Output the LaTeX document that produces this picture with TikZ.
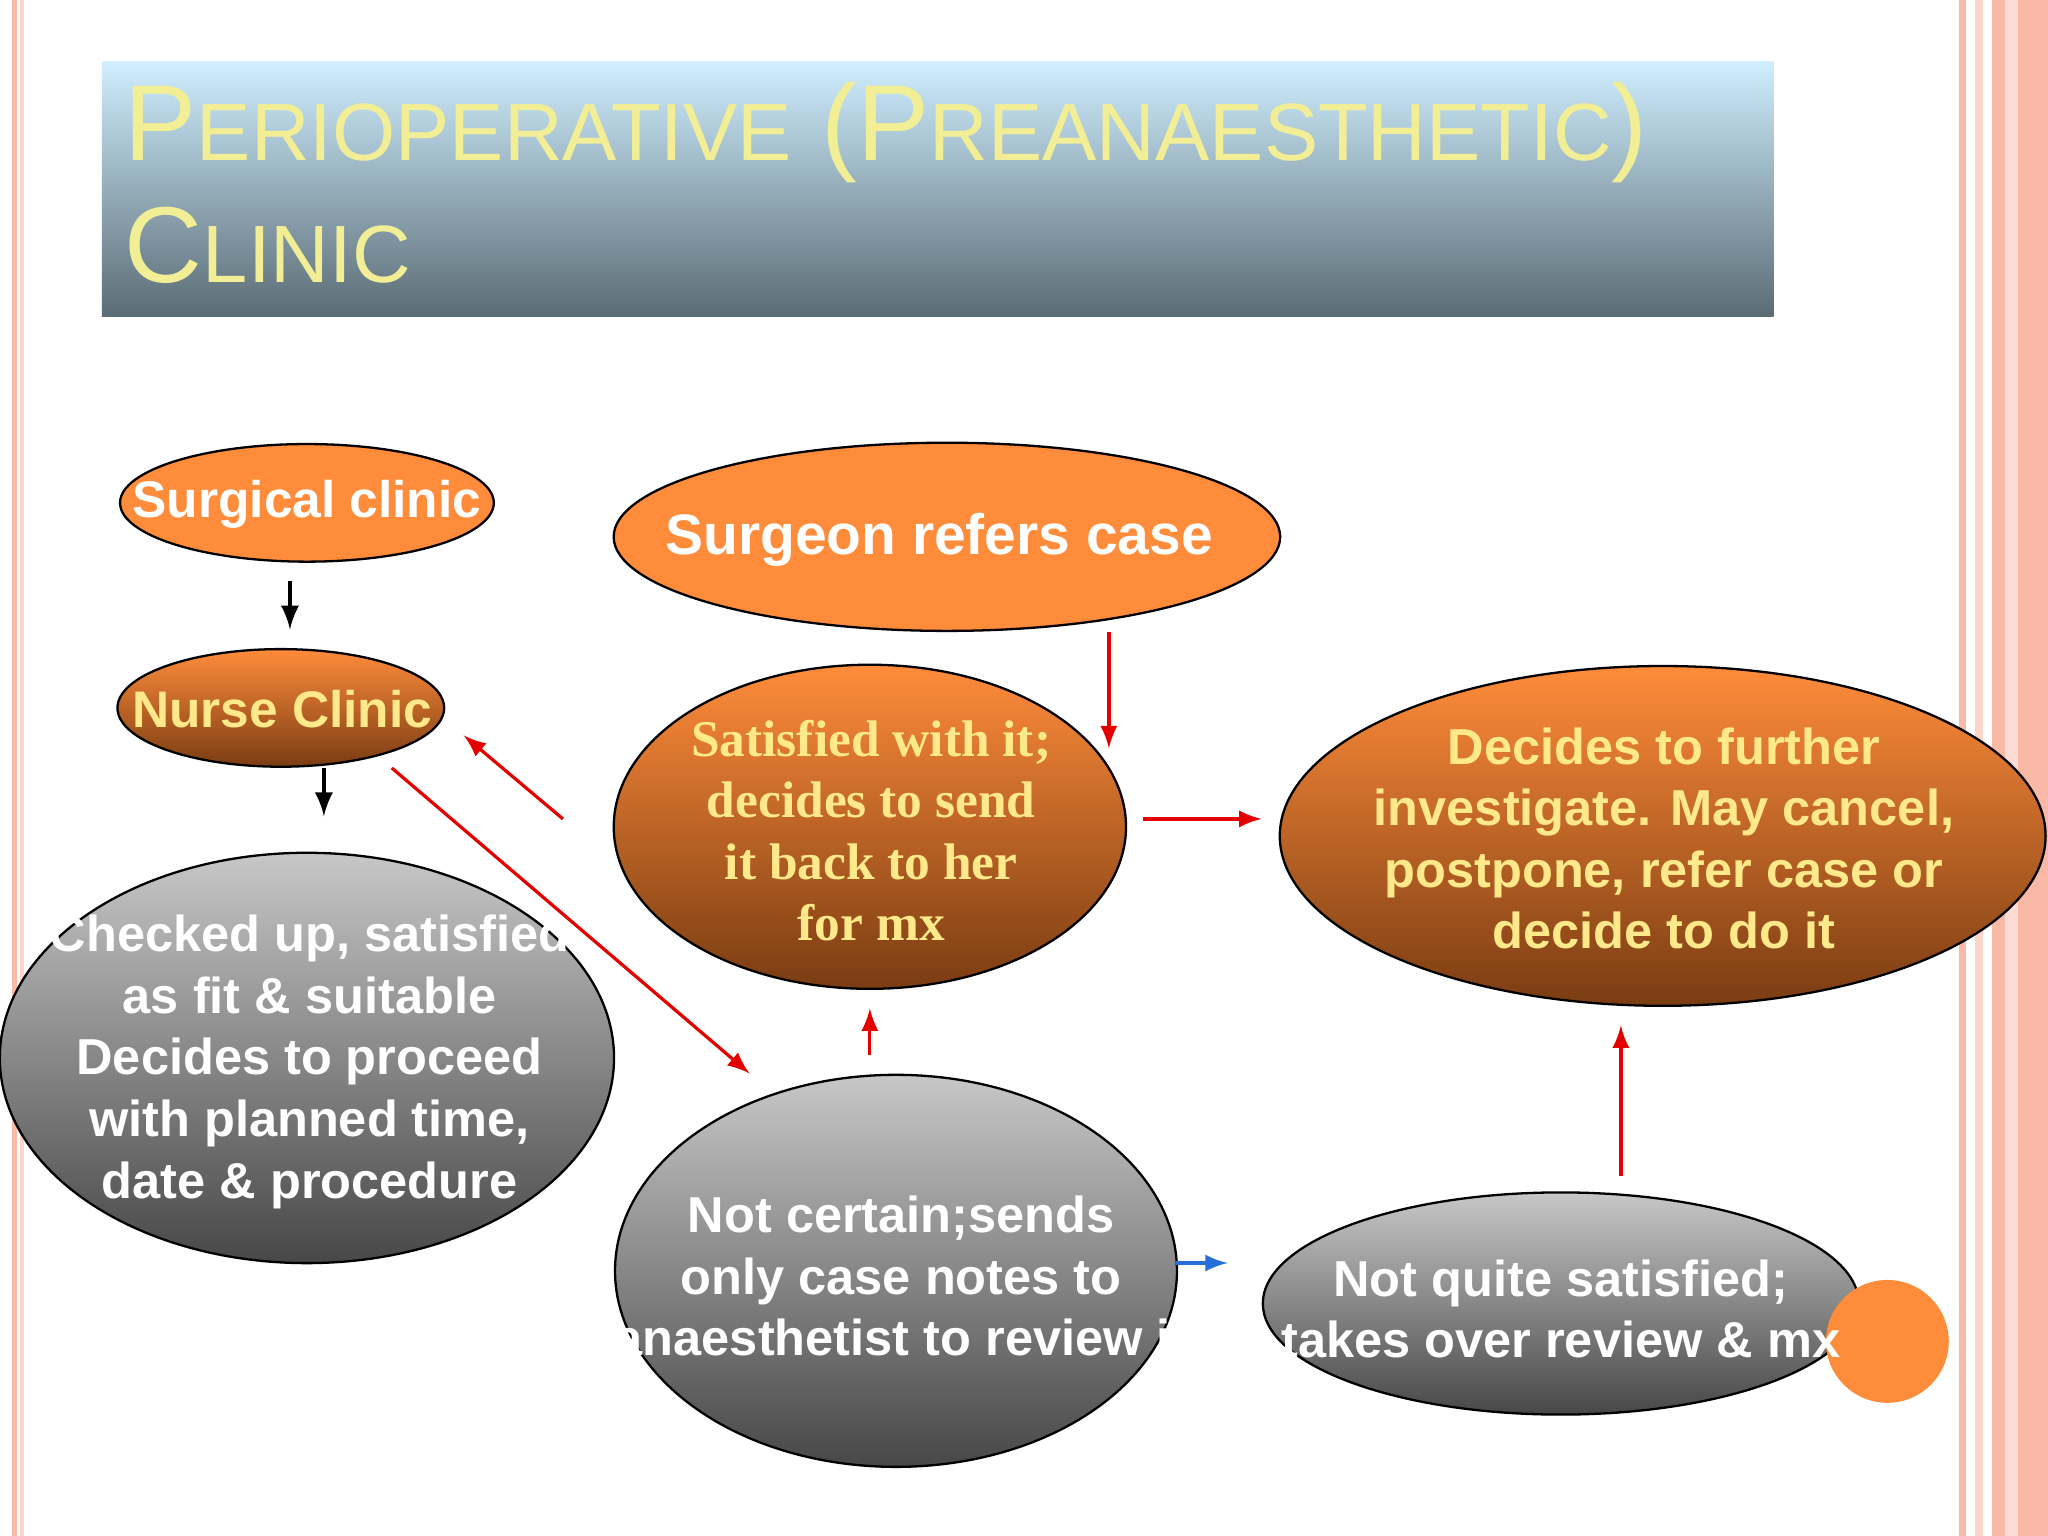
\documentclass[tikz,border=0pt]{standalone}
\usepackage{fontspec}
\setmainfont{Liberation Sans}
\newfontfamily\serifb{Liberation Serif}
\usetikzlibrary{shapes.geometric}
\definecolor{org}{HTML}{FF8C3A}
\definecolor{brn}{HTML}{7A3C12}
\definecolor{ttl}{HTML}{F2EE96}
\definecolor{pnk}{HTML}{F9B9A6}
\definecolor{txy}{HTML}{FFE98A}
\definecolor{tt1}{HTML}{CFEEFF}
\definecolor{tt2}{HTML}{5B6C75}
\begin{document}
\begin{tikzpicture}[x=0.01cm,y=-0.01cm,
 ov/.style={ellipse,draw=black,line width=0.5pt,inner sep=0pt},
 flat/.style={ov,fill=org},
 grad/.style={ov,top color=org,bottom color=brn},
 grey/.style={ov,top color=black!22,bottom color=black!72},
 tx/.style={align=center,inner sep=0pt,font=\bfseries\fontsize{11}{13.4}\selectfont},
 ra/.style={-latex,red!90!black,line width=0.7pt},
 ba/.style={-latex,black,line width=0.8pt}]
\useasboundingbox (0,0) rectangle (1568,1176);
\fill[white] (0,0) rectangle (1568,1176);
% borders
\fill[pnk] (9,0) rectangle (13,1176);
\fill[pnk!60] (15,0) rectangle (18,1176);
\fill[pnk] (1500,0) rectangle (1505,1176);
\fill[pnk!60] (1512,0) rectangle (1518,1176);
\fill[pnk] (1525,0) rectangle (1568,1176);
\fill[pnk!50] (1535,0) rectangle (1545,1176);
% title
\shade[top color=tt1,bottom color=tt2] (78,47) rectangle (1358,242);
\node[anchor=base west,text=ttl,inner sep=0pt,font=\fontsize{23.5}{26}\selectfont] (t1) at (95,123)
 {P{\fontsize{17.7}{20}\selectfont ERIOPERATIVE} (P{\fontsize{17.7}{20}\selectfont REANAESTHETIC})};
\node[anchor=base west,text=ttl,inner sep=0pt,font=\fontsize{23.5}{26}\selectfont] (t2) at (95,216)
 {C{\fontsize{17.7}{20}\selectfont LINIC}};
% shapes
\node[flat,minimum width=2.86cm,minimum height=0.9cm] (sc) at (235,385) {};
\node[flat,minimum width=5.1cm,minimum height=1.44cm] (sr) at (725,411) {};
\node[grad,minimum width=2.5cm,minimum height=0.9cm] (nc) at (215,542) {};
\node[grad,minimum width=3.92cm,minimum height=2.48cm] (sa) at (666,633) {};
\node[grad,minimum width=5.86cm,minimum height=2.6cm] (de) at (1273,640) {};
\node[grey,minimum width=4.7cm,minimum height=3.14cm] (ch) at (235,810) {};
\node[grey,minimum width=4.3cm,minimum height=3cm] (nt) at (686,973) {};
\node[grey,minimum width=4.56cm,minimum height=1.7cm] (nq) at (1195,998) {};
\node[circle,fill=org,minimum size=0.94cm,inner sep=0pt] (oc) at (1445,1027) {};
% texts
\node[tx,text=white,font=\bfseries\fontsize{11.2}{12}\selectfont] (sct) at (235,386) {Surgical clinic};
\node[tx,text=white,font=\bfseries\fontsize{12.4}{14}\selectfont] (srt) at (719,413) {Surgeon refers case};
\node[tx,text=txy,font=\bfseries\fontsize{11.2}{12}\selectfont] (nct) at (216,543) {Nurse Clinic};
\node[tx,text=txy,font=\serifb\bfseries\fontsize{11.2}{13.4}\selectfont] (sat) at (667,636) {Satisfied with it;\\decides to send\\it back to her\\for mx};
\node[tx,text=txy] (det) at (1274,642) {Decides to further\\investigate. May cancel,\\postpone, refer case or\\decide to do it};
\node[tx,text=white] (cht) at (237,813) {Checked up, satisfied\\as fit \& suitable\\Decides to proceed\\with planned time,\\date \& procedure};
\node[tx,text=white] (ntt) at (690,977) {Not certain;sends\\only case notes to\\anaesthetist to review it};
\node[tx,text=white] (nqt) at (1195,1002) {Not quite satisfied;\\takes over review \& mx};
% arrows
\coordinate (a1) at (222,445); \coordinate (a2) at (222,482);
\coordinate (b1) at (248,588); \coordinate (b2) at (248,625);
\coordinate (c1) at (431,627); \coordinate (c2) at (355,563);
\coordinate (d1) at (300,588); \coordinate (d2) at (574,822);
\coordinate (e1) at (849,484); \coordinate (e2) at (849,573);
\coordinate (f1) at (875,627); \coordinate (f2) at (966,627);
\coordinate (g1) at (666,808); \coordinate (g2) at (666,772);
\coordinate (h1) at (1241,900); \coordinate (h2) at (1241,785);
\coordinate (i1) at (900,967); \coordinate (i2) at (940,967);
\draw[ba] (a1) -- (a2);
\draw[ba] (b1) -- (b2);
\draw[ra] (c1) -- (c2);
\draw[ra] (d1) -- (d2);
\draw[ra] (e1) -- (e2);
\draw[ra] (f1) -- (f2);
\draw[ra] (g1) -- (g2);
\draw[ra] (h1) -- (h2);
\draw[-latex,blue!60!cyan!70!gray,line width=0.7pt] (i1) -- (i2);
\end{tikzpicture}
\end{document}
